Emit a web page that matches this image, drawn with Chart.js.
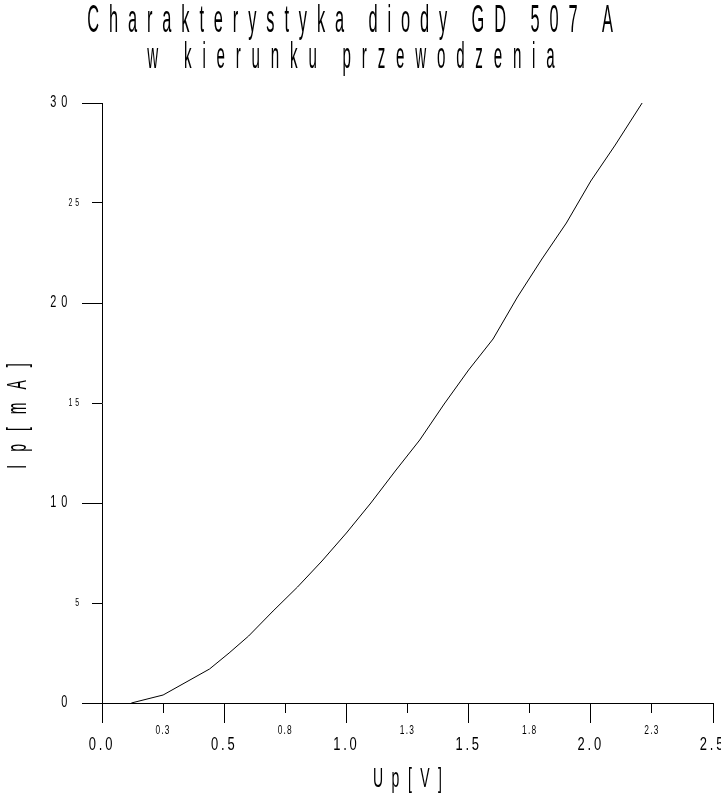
<!DOCTYPE html>
<html>
<head>
<meta charset="utf-8">
<script src="https://cdn.jsdelivr.net/npm/chart.js@4.4.1/dist/chart.umd.min.js"></script>
<style>
  html,body{margin:0;padding:0;background:#fff;}
</style>
</head>
<body>
<canvas id="wykres" width="721" height="795"></canvas>
<script>
// dane
const napiecie = [0.12, 0.25, 0.44, 0.52, 0.6, 0.7, 0.8, 0.9, 1.0, 1.1, 1.2, 1.3, 1.4, 1.5, 1.6, 1.7, 1.8, 1.9, 2.0, 2.1, 2.21];
const prad     = [0, 0.4, 1.7, 2.5, 3.35, 4.6, 5.8, 7.1, 8.5, 10.0, 11.6, 13.15, 14.95, 16.65, 18.2, 20.3, 22.2, 24.0, 26.1, 27.9, 30];

const xGlowne = [0, 0.5, 1, 1.5, 2, 2.5];
const xGlowneOpis = ["0.0", "0.5", "1.0", "1.5", "2.0", "2.5"];
const xPosrednie = [0.25, 0.75, 1.25, 1.75, 2.25];
const xPosrednieOpis = ["0.3", "0.8", "1.3", "1.8", "2.3"];
const yGlowne = [0, 10, 20, 30];
const yPosrednie = [5, 15, 25];

const tytul = ["Charakterystyka diody GD 507 A", "w kierunku przewodzenia"];
const opisX = "Up[V]";
const opisY = "Ip[mA]";

const FONT = "'Liberation Sans', Arial, sans-serif";

// podpisy osi: waskie i rozstrzelone jak w oryginale
const odstepy = {x: 2.8, x2: 1.2, y: 4.8, y2: 2.8};
const sciskanie = {x: 0.72, x2: 0.7, y: 0.68, y2: 0.7};
Chart.LinearScale.prototype.drawLabels = function(area){
  const ctx = this.ctx;
  const sx = sciskanie[this.id] || 1;
  for(const it of this.getLabelItems(area)){
    const o = it.options;
    ctx.save();
    ctx.translate(o.translation[0], o.translation[1]);
    ctx.scale(sx, 1);
    ctx.font = it.font.string;
    ctx.fillStyle = o.color;
    ctx.textAlign = o.textAlign;
    ctx.textBaseline = o.textBaseline;
    ctx.letterSpacing = (odstepy[this.id] || 0)/sx + "px";
    ctx.fillText(it.label, 0, it.textOffset);
    ctx.restore();
  }
};

function napis(ctx, tekst, x, y, rozmiar, sx, odstep, pion){
  ctx.save();
  ctx.translate(x, y);
  if(pion) ctx.rotate(-Math.PI/2);
  ctx.scale(sx, 1);
  ctx.font = rozmiar + "px " + FONT;
  ctx.letterSpacing = (odstep/sx) + "px";
  ctx.fillStyle = "#000";
  ctx.textBaseline = "alphabetic";
  ctx.textAlign = "left";
  const w = ctx.measureText(tekst).width - odstep/sx;
  ctx.fillText(tekst, -w/2, 0);
  ctx.restore();
}

const podpisy = {
  id: "podpisy",
  afterLayout(chart){
    // osie pomocnicze maja zerowa szerokosc, poszerz tylko obszar podpisow
    const s = chart.scales;
    s.y2.left = 0;
    s.x2.bottom = chart.height;
  },
  afterDraw(chart){
    const ctx = chart.ctx, a = chart.chartArea;
    napis(ctx, tytul[0], 350, 31.5, 39, 0.42, 9.9, false);
    napis(ctx, tytul[1], 351, 68, 36, 0.42, 10.8, false);
    napis(ctx, opisX, (a.left + a.right)/2, 787, 28, 0.5, 8.5, false);
    napis(ctx, opisY, 26, (a.top + a.bottom)/2 + 13, 28, 0.5, 13, true);
  }
};

function os(pozycja, wartosci, opisy, dlugosc, rozmiar, pad, waga, rozmiarOsi, ramka){
  return {
    type: "linear",
    axis: pozycja === "bottom" ? "x" : "y",
    position: pozycja,
    weight: waga,
    min: 0,
    max: pozycja === "bottom" ? 2.5 : 30,
    afterBuildTicks: s => { s.ticks = wartosci.map(v => ({value: v})); },
    afterFit: s => {
      if(pozycja === "bottom") s.height = rozmiarOsi; else s.width = rozmiarOsi;
      s.paddingLeft = s.paddingRight = s.paddingTop = s.paddingBottom = 0;
    },
    grid: {drawOnChartArea: false, drawTicks: true, tickLength: dlugosc, tickColor: "#000", tickWidth: 1},
    border: {display: ramka, color: "#000", width: 1},
    ticks: {
      autoSkip: false, maxRotation: 0, minRotation: 0,
      color: "#000", padding: pad,
      font: {family: FONT, size: rozmiar},
      callback: (v, i) => opisy[i]
    }
  };
}

new Chart(document.getElementById("wykres"), {
  type: "line",
  data: {
    datasets: [{
      data: napiecie.map((u, i) => ({x: u, y: prad[i]})),
      borderColor: "#000",
      borderWidth: 1,
      pointRadius: 0,
      tension: 0,
      fill: false,
      xAxisID: "x",
      yAxisID: "y"
    }]
  },
  options: {
    responsive: false,
    animation: false,
    layout: {padding: {top: 103, right: 8, left: 0, bottom: 0}},
    plugins: {legend: {display: false}, tooltip: {enabled: false}, title: {display: false}},
    scales: {
      x:  os("bottom", xGlowne, xGlowneOpis, 20, 18, 11, 1, 92, true),
      x2: os("bottom", xPosrednie, xPosrednieOpis, 10, 12, 10, 0, 0, false),
      y:  os("left", yGlowne, yGlowne.map(String), 20, 16, 10, 1, 102, true),
      y2: os("left", yPosrednie, yPosrednie.map(String), 10, 10, 10, 0, 0, false)
    }
  },
  plugins: [podpisy]
});
</script>
</body>
</html>
